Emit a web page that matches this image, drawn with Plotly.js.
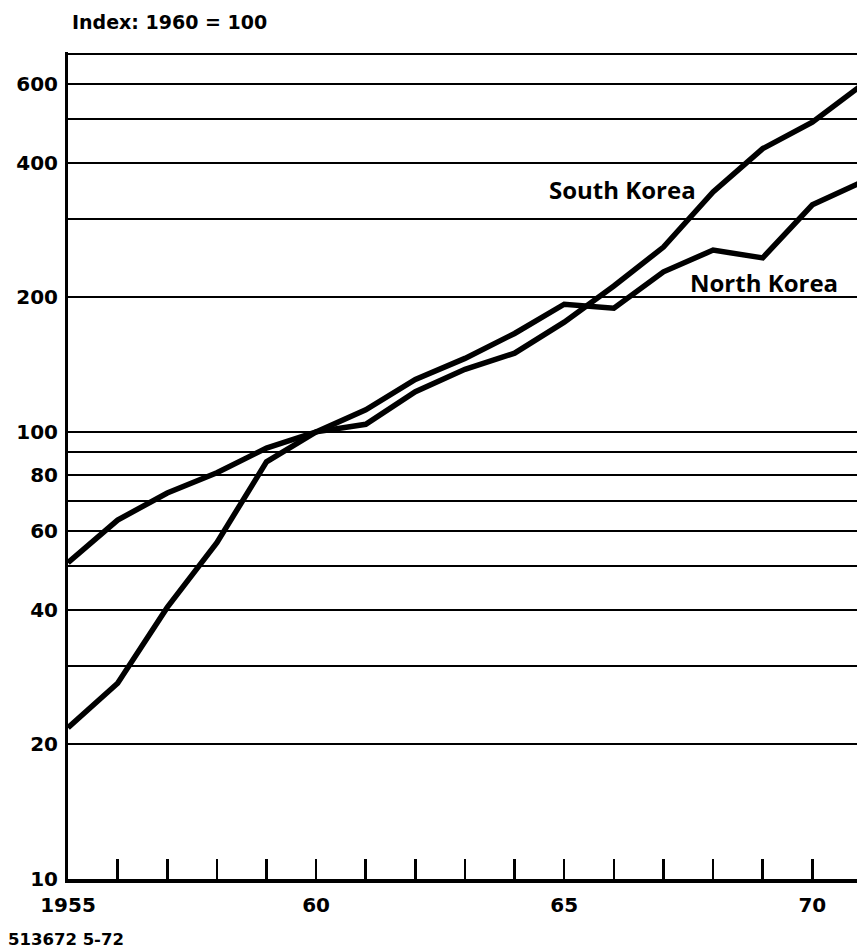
<!DOCTYPE html>
<html>
<head>
<meta charset="utf-8">
<script src="https://cdn.plot.ly/plotly-3.0.1.min.js"></script>
<style>
html,body{margin:0;padding:0;background:#fff;}
#chart{width:857px;height:948px;}
</style>
</head>
<body>
<div id="chart"></div>
<script>
// Data (index, 1960 = 100)
var years = [1955,1956,1957,1958,1959,1960,1961,1962,1963,1964,1965,1966,1967,1968,1969,1970,1971];
var northKorea = [21.8,27.4,40.5,56.5,85.7,100,112,131,146,166,193,189,228,255,245,322,362];
var southKorea = [51,63.5,73,81,92,100,104,123,138,150,176,212,259,344,430,493,597];

var yTickVals = [10,20,30,40,50,60,70,80,90,100,200,300,400,500,600,700];
var yTickText = ["10","20","","40","","60","","80","","100","200","","400","","600",""];
var xTickVals = [1955,1956,1957,1958,1959,1960,1961,1962,1963,1964,1965,1966,1967,1968,1969,1970];
var xTickText = ["1955","","","","","60","","","","","65","","","","","70"];

var seriesNames = ["North Korea","South Korea"];

var lineStyle = {color:"#000", width:5.5};

var traces = [
  {x:years, y:northKorea, name:seriesNames[0], type:"scatter", mode:"lines", line:lineStyle, hoverinfo:"x+y+name"},
  {x:years, y:southKorea, name:seriesNames[1], type:"scatter", mode:"lines", line:lineStyle, hoverinfo:"x+y+name"}
];

var tickFont = {family:"DejaVu Sans, Arial, sans-serif", size:20, color:"#000", weight:"bold"};

var layout = {
  width:857, height:948,
  margin:{l:68, r:0, t:52, b:69, pad:0},
  paper_bgcolor:"#fff", plot_bgcolor:"#fff",
  showlegend:false,
  font:tickFont,
  xaxis:{
    range:[1955, 1970.9],
    tickmode:"array", tickvals:xTickVals, ticktext:xTickText,
    ticks:"inside", ticklen:20, tickwidth:2.5, tickcolor:"#000",
    showgrid:false, zeroline:false,
    showline:true, linecolor:"#000", linewidth:4,
    tickfont:tickFont, ticklabelstandoff:5
  },
  yaxis:{
    type:"log",
    range:[1, 2.8496],
    tickmode:"array", tickvals:yTickVals, ticktext:yTickText,
    ticks:"", showgrid:true, gridcolor:"#000", gridwidth:2,
    zeroline:false,
    showline:true, linecolor:"#000", linewidth:3,
    tickfont:tickFont, ticklabelstandoff:3
  },
  annotations:[
    {text:"Index: 1960 = 100", xref:"paper", yref:"paper", x:0.003, y:1.0363, xanchor:"left", yanchor:"middle", showarrow:false, font:{family:"DejaVu Sans, Arial, sans-serif", size:19, color:"#000", weight:"bold"}},
    {text:"513672 5-72", xref:"paper", yref:"paper", x:-0.079, y:-0.0727, xanchor:"left", yanchor:"middle", showarrow:false, font:{family:"DejaVu Sans, Arial, sans-serif", size:16.5, color:"#000", weight:"bold"}},
    {text:"South Korea", xref:"x", yref:"y", x:1966.17, y:2.541, xanchor:"center", yanchor:"middle", showarrow:false, font:{family:"Open Sans, sans-serif", size:24, color:"#000", weight:"bold"}},
    {text:"North Korea", xref:"x", yref:"y", x:1969.02, y:2.333, xanchor:"center", yanchor:"middle", showarrow:false, font:{family:"Open Sans, sans-serif", size:24, color:"#000", weight:"bold"}}
  ]
};

Plotly.newPlot("chart", traces, layout, {displayModeBar:false, staticPlot:true});
</script>
</body>
</html>
